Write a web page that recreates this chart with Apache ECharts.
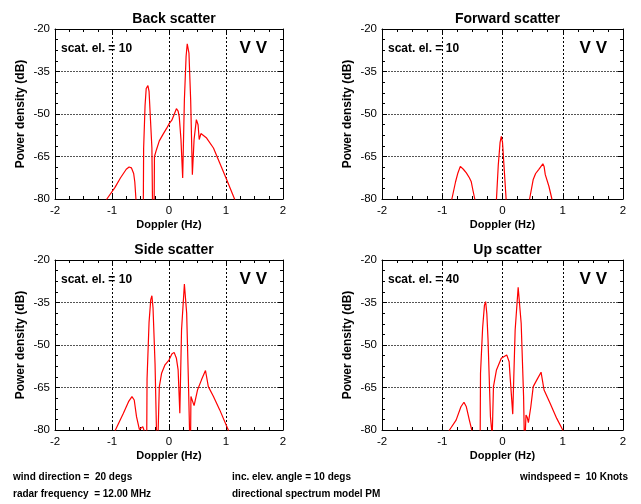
<!DOCTYPE html>
<html><head><meta charset="utf-8">
<script src="https://cdn.jsdelivr.net/npm/echarts@6/dist/echarts.min.js"></script>
<style>html,body{margin:0;padding:0;background:#fff}#c{width:641px;height:504px}</style>
</head><body><div id="c"></div>
<script>
const xTicks = [-2, -1, 0, 1, 2];
const yTicks = [-80, -65, -50, -35, -20];
const panelTitles = ['Back scatter', 'Forward scatter', 'Side scatter', 'Up scatter'];
const scatLabels = ['scat. el. = 10', 'scat. el. = 10', 'scat. el. = 10', 'scat. el. = 40'];
const polLabel = 'V V';
const xName = 'Doppler (Hz)';
const yName = 'Power density (dB)';
const footerTexts = ['wind direction =  20 degs', 'inc. elev. angle = 10 degs', 'windspeed =  10 Knots',
  'radar frequency  = 12.00 MHz', 'directional spectrum model PM'];

const backScatter = [[-1.25,-90],[-1.09,-80],[-0.95,-76],[-0.85,-72.5],[-0.75,-69.5],[-0.70,-68.7],[-0.66,-69],[-0.62,-71],[-0.60,-74],[-0.58,-80],[-0.56,-95],
  [-0.455,-95],[-0.45,-80],[-0.445,-62],[-0.42,-47],[-0.40,-41],[-0.37,-40],[-0.35,-42],[-0.33,-50],[-0.30,-62],[-0.29,-80],[-0.285,-95],
  [-0.265,-95],[-0.26,-80],[-0.255,-65],[-0.22,-62.6],[-0.17,-59.5],[-0.10,-57],[-0.04,-55],[0.0,-53.5],[0.05,-52.2],[0.09,-50.2],[0.13,-48.1],[0.16,-49],[0.18,-51],[0.21,-59],[0.24,-72.6],
  [0.27,-45],[0.30,-29.6],[0.32,-25.2],[0.35,-28.5],[0.38,-45],[0.41,-71.4],[0.44,-59],[0.48,-52],[0.51,-53.8],[0.53,-59],[0.56,-56.9],[0.58,-56.7],[0.66,-58.5],[0.78,-62],[0.89,-67.3],[1.0,-72.6],[1.15,-80],[1.3,-90]];

const forwardScatter = [[-0.95,-90],[-0.84,-80],[-0.78,-74],[-0.74,-70.8],[-0.70,-68.5],[-0.65,-69.5],[-0.60,-70.8],[-0.55,-72.5],[-0.52,-73.8],[-0.49,-77],[-0.46,-80],[-0.43,-95],
  [-0.11,-95],[-0.10,-80],[-0.07,-68],[-0.04,-60],[-0.02,-57.9],[0.0,-60],[0.03,-70],[0.06,-80],[0.08,-95],
  [0.43,-95],[0.45,-80],[0.51,-73.1],[0.55,-71],[0.60,-69.6],[0.67,-67.6],[0.69,-68.5],[0.71,-71.4],[0.77,-75.5],[0.82,-80],[0.9,-90]];

const sideScatter = [[-1.05,-90],[-0.94,-80],[-0.80,-74.1],[-0.71,-70],[-0.65,-68.2],[-0.61,-69.4],[-0.57,-75.3],[-0.52,-79.8],[-0.49,-79.5],[-0.46,-78.8],[-0.44,-80],[-0.42,-95],
  [-0.395,-95],[-0.39,-80],[-0.385,-62],[-0.35,-42],[-0.32,-34],[-0.30,-32.6],[-0.28,-37],[-0.245,-56.5],[-0.22,-80],[-0.215,-95],
  [-0.195,-95],[-0.19,-80],[-0.17,-64.7],[-0.13,-60],[-0.07,-57],[0.0,-55.3],[0.05,-53.2],[0.09,-52.6],[0.13,-54.7],[0.16,-58.8],[0.19,-74.1],
  [0.22,-44.7],[0.27,-28.5],[0.31,-38.8],[0.34,-62.3],[0.36,-80],[0.37,-95],
  [0.375,-95],[0.38,-80],[0.385,-68.2],[0.405,-67.8],[0.44,-71.4],[0.50,-65.9],[0.57,-62.3],[0.64,-59],[0.69,-64.7],[0.78,-68.2],[0.89,-72.9],[1.04,-80],[1.15,-90]];

const upScatter = [[-1.0,-90],[-0.88,-80],[-0.77,-76.5],[-0.69,-71.8],[-0.64,-70.2],[-0.60,-71.8],[-0.55,-76.5],[-0.51,-80],[-0.49,-95],
  [-0.375,-95],[-0.37,-80],[-0.365,-60],[-0.33,-44],[-0.30,-36],[-0.28,-34.7],[-0.26,-39],[-0.24,-48.2],[-0.20,-75.3],[-0.18,-80],[-0.175,-95],
  [-0.172,-95],[-0.168,-80],[-0.15,-64.7],[-0.10,-58.8],[-0.02,-54.7],[0.07,-53.5],[0.11,-55.9],[0.13,-62.3],[0.17,-74.4],
  [0.21,-44.7],[0.26,-29.6],[0.31,-42.3],[0.35,-68.2],[0.36,-80],[0.365,-95],
  [0.375,-95],[0.38,-80],[0.39,-74.7],[0.41,-75.5],[0.43,-77.4],[0.47,-71.8],[0.51,-64.7],[0.57,-62.3],[0.64,-59.6],[0.69,-65.9],[0.79,-70.6],[0.90,-75.9],[1.0,-80],[1.1,-90]];

const panelData = [backScatter, forwardScatter, sideScatter, upScatter];
const grids = [
  {left: 55, top: 29, width: 228, height: 170},
  {left: 382, top: 29, width: 241, height: 170},
  {left: 55, top: 260, width: 228, height: 170},
  {left: 382, top: 260, width: 241, height: 170}
];

const FONT = '"Liberation Sans", Arial, Helvetica, sans-serif';
const xMin = xTicks[0], xMax = xTicks[xTicks.length - 1], xInt = xTicks[1] - xTicks[0];
const yMin = yTicks[0], yMax = yTicks[yTicks.length - 1], yInt = yTicks[1] - yTicks[0];

const xAxes = [], yAxes = [], series = [], titles = [], graphics = [];
grids.forEach((g, i) => {
  const baseTick = {show: true, inside: true, length: 5, lineStyle: {color: '#000', width: 1}};
  const minor = {show: true, splitNumber: 4, length: 3, lineStyle: {color: '#000', width: 1}};
  xAxes.push({
    type: 'value', gridIndex: i, min: xMin, max: xMax, interval: xInt, position: 'bottom',
    axisLine: {show: true, onZero: false, lineStyle: {color: '#000', width: 1}},
    axisTick: baseTick, minorTick: minor,
    axisLabel: {color: '#000', fontSize: 11.5, fontFamily: FONT, margin: 6},
    splitLine: {show: true, lineStyle: {color: '#000', width: 1, type: [2, 2]}},
    name: xName, nameLocation: 'middle', nameGap: 20,
    nameTextStyle: {color: '#000', fontSize: 11, fontWeight: 'bold', fontFamily: FONT}
  });
  xAxes.push({
    type: 'value', gridIndex: i, min: xMin, max: xMax, interval: xInt, position: 'top',
    axisLine: {show: true, onZero: false, lineStyle: {color: '#000', width: 1}},
    axisTick: baseTick, minorTick: minor, axisLabel: {show: false}, splitLine: {show: false}
  });
  yAxes.push({
    type: 'value', gridIndex: i, min: yMin, max: yMax, interval: yInt, position: 'left',
    axisLine: {show: true, onZero: false, lineStyle: {color: '#000', width: 1}},
    axisTick: baseTick, minorTick: minor,
    axisLabel: {color: '#000', fontSize: 11.5, fontFamily: FONT, margin: 5},
    splitLine: {show: true, lineStyle: {color: '#555', width: 1, type: [2, 1]}},
    name: yName, nameLocation: 'middle', nameGap: 28, nameRotate: 90,
    nameTextStyle: {color: '#000', fontSize: 12, fontWeight: 'bold', fontFamily: FONT}
  });
  yAxes.push({
    type: 'value', gridIndex: i, min: yMin, max: yMax, interval: yInt, position: 'right',
    axisLine: {show: true, onZero: false, lineStyle: {color: '#000', width: 1}},
    axisTick: baseTick, minorTick: minor, axisLabel: {show: false}, splitLine: {show: false}
  });
  series.push({
    type: 'line', xAxisIndex: 2 * i, yAxisIndex: 2 * i, data: panelData[i],
    showSymbol: false, symbol: 'none', clip: true, smooth: false, animation: false,
    lineStyle: {color: '#ff0000', width: 1.2}
  });
  titles.push({
    text: panelTitles[i], left: g.left + g.width / 2, textAlign: 'center', top: g.top - 22,
    textStyle: {color: '#000', fontSize: 14, fontWeight: 'bold', fontFamily: FONT}
  });
  graphics.push({
    type: 'text', left: g.left + 6, top: g.top + 14,
    style: {text: scatLabels[i], fill: '#000', font: 'bold 12px ' + FONT}
  });
  graphics.push({
    type: 'text', right: 641 - (g.left + g.width) + 16, top: g.top + 11,
    style: {text: polLabel, fill: '#000', font: 'bold 17px ' + FONT}
  });
});

const footPos = [[13, 472], [232, 472], [null, 472], [13, 489], [232, 489]];
footerTexts.forEach((t, k) => {
  const p = footPos[k];
  const el = {type: 'text', top: p[1], style: {text: t, fill: '#000', font: 'bold 10px ' + FONT}};
  if (p[0] === null) el.right = 13; else el.left = p[0];
  graphics.push(el);
});

const chart = echarts.init(document.getElementById('c'), null, {renderer: 'canvas'});
chart.setOption({
  animation: false,
  backgroundColor: '#fff',
  title: titles,
  grid: grids.map(g => Object.assign({containLabel: false}, g)),
  xAxis: xAxes,
  yAxis: yAxes,
  series: series,
  graphic: graphics
});
</script>
</body></html>
